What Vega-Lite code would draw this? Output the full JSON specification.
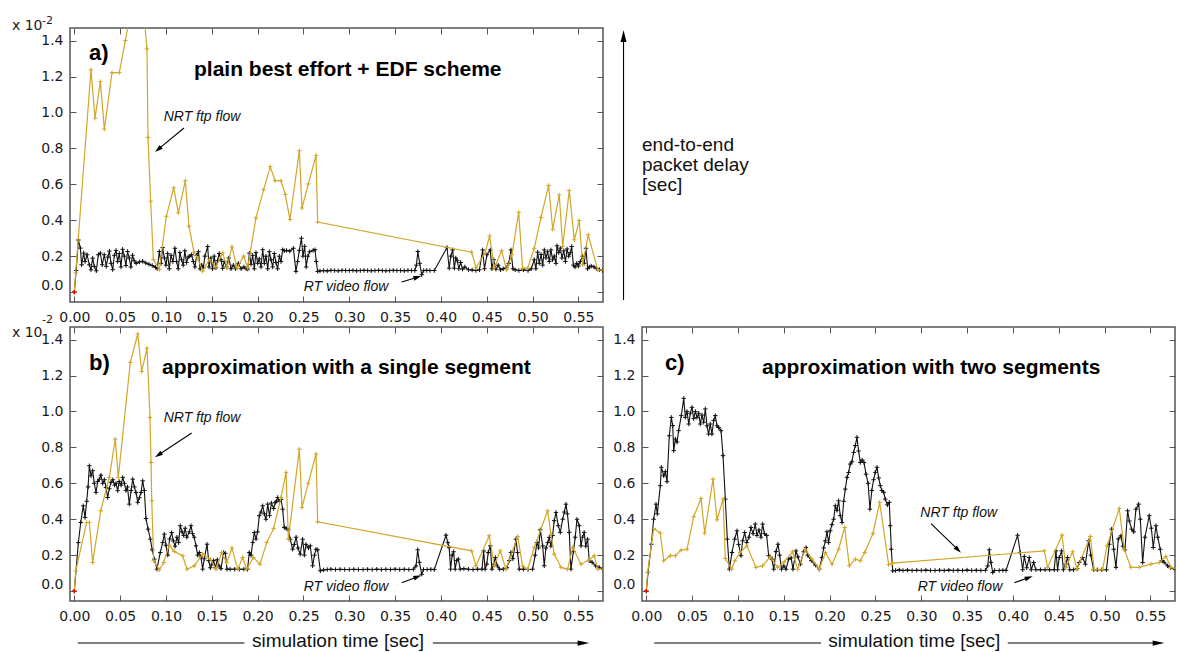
{
"$schema":"https://vega.github.io/schema/vega-lite/v6.json",
"padding":{"left":11,"top":13,"right":0,"bottom":0},
"config":{"view":{"stroke":"#555","strokeWidth":1.5},"axis":{"domain":false,"grid":false,"tickColor":"#555","tickWidth":1,"labelFont":"DejaVu Sans","labelFontSize":14,"labelColor":"#1a1a1a"}},
"datasets":{
"aNRT":[{"t":0,"v":0},{"t":0.0015,"v":0.107},{"t":0.0182,"v":1.237},{"t":0.0226,"v":0.968},{"t":0.0284,"v":1.172},{"t":0.0328,"v":0.907},{"t":0.0411,"v":1.222},{"t":0.0491,"v":1.222},{"t":0.0557,"v":1.4},{"t":0.062,"v":1.58},{"t":0.068,"v":1.56},{"t":0.0745,"v":1.62},{"t":0.0793,"v":1.354},{"t":0.0804,"v":0.861},{"t":0.0833,"v":0.506},{"t":0.0862,"v":0.182},{"t":0.0928,"v":0.126},{"t":0.1004,"v":0.422},{"t":0.1084,"v":0.58},{"t":0.1135,"v":0.441},{"t":0.1211,"v":0.62},{"t":0.1251,"v":0.367},{"t":0.1306,"v":0.222},{"t":0.135,"v":0.185},{"t":0.14,"v":0.117},{"t":0.1473,"v":0.182},{"t":0.1545,"v":0.14},{"t":0.1619,"v":0.218},{"t":0.1666,"v":0.135},{"t":0.172,"v":0.252},{"t":0.1775,"v":0.135},{"t":0.1848,"v":0.2},{"t":0.1891,"v":0.135},{"t":0.1982,"v":0.413},{"t":0.2066,"v":0.57},{"t":0.2138,"v":0.698},{"t":0.219,"v":0.62},{"t":0.2255,"v":0.62},{"t":0.2302,"v":0.543},{"t":0.2353,"v":0.404},{"t":0.2455,"v":0.787},{"t":0.2484,"v":0.468},{"t":0.2553,"v":0.602},{"t":0.2637,"v":0.761},{"t":0.2655,"v":0.39},{"t":0.4335,"v":0.222},{"t":0.4382,"v":0.135},{"t":0.4482,"v":0.218},{"t":0.4531,"v":0.313},{"t":0.4582,"v":0.135},{"t":0.4662,"v":0.23},{"t":0.4717,"v":0.124},{"t":0.4775,"v":0.209},{"t":0.4848,"v":0.444},{"t":0.4891,"v":0.133},{"t":0.4946,"v":0.133},{"t":0.5018,"v":0.244},{"t":0.5091,"v":0.415},{"t":0.5175,"v":0.594},{"t":0.5219,"v":0.35},{"t":0.5291,"v":0.541},{"t":0.5328,"v":0.254},{"t":0.54,"v":0.565},{"t":0.5455,"v":0.291},{"t":0.5509,"v":0.398},{"t":0.5546,"v":0.152},{"t":0.5607,"v":0.319},{"t":0.571,"v":0.124},{"t":0.578,"v":0.124}],
"aRT":[{"t":0,"v":0},{"t":0.002,"v":0.12},{"t":0.0045,"v":0.29},{"t":0.0066,"v":0.245},{"t":0.008,"v":0.152},{"t":0.0102,"v":0.217},{"t":0.0117,"v":0.17},{"t":0.0139,"v":0.208},{"t":0.0164,"v":0.152},{"t":0.0182,"v":0.124},{"t":0.02,"v":0.189},{"t":0.0218,"v":0.143},{"t":0.024,"v":0.119},{"t":0.0262,"v":0.208},{"t":0.0284,"v":0.217},{"t":0.0305,"v":0.152},{"t":0.0327,"v":0.208},{"t":0.0349,"v":0.143},{"t":0.0366,"v":0.195},{"t":0.0383,"v":0.228},{"t":0.0401,"v":0.16},{"t":0.0419,"v":0.125},{"t":0.0437,"v":0.205},{"t":0.0455,"v":0.232},{"t":0.0473,"v":0.17},{"t":0.0491,"v":0.215},{"t":0.0509,"v":0.14},{"t":0.0527,"v":0.238},{"t":0.0545,"v":0.2},{"t":0.0563,"v":0.148},{"t":0.0581,"v":0.226},{"t":0.0599,"v":0.19},{"t":0.0617,"v":0.14},{"t":0.0635,"v":0.205},{"t":0.0653,"v":0.175},{"t":0.0675,"v":0.16},{"t":0.071,"v":0.168},{"t":0.0745,"v":0.172},{"t":0.078,"v":0.162},{"t":0.0815,"v":0.155},{"t":0.085,"v":0.148},{"t":0.0885,"v":0.138},{"t":0.0905,"v":0.13},{"t":0.0928,"v":0.226},{"t":0.0946,"v":0.16},{"t":0.0964,"v":0.248},{"t":0.0982,"v":0.19},{"t":0.1,"v":0.15},{"t":0.1018,"v":0.215},{"t":0.1036,"v":0.13},{"t":0.1055,"v":0.205},{"t":0.1075,"v":0.17},{"t":0.1098,"v":0.244},{"t":0.1116,"v":0.17},{"t":0.1134,"v":0.13},{"t":0.1152,"v":0.22},{"t":0.117,"v":0.18},{"t":0.1188,"v":0.15},{"t":0.1206,"v":0.23},{"t":0.1224,"v":0.165},{"t":0.1242,"v":0.195},{"t":0.126,"v":0.2},{"t":0.128,"v":0.208},{"t":0.1298,"v":0.17},{"t":0.1316,"v":0.14},{"t":0.1335,"v":0.205},{"t":0.1355,"v":0.225},{"t":0.1373,"v":0.13},{"t":0.139,"v":0.15},{"t":0.1408,"v":0.135},{"t":0.1425,"v":0.2},{"t":0.1455,"v":0.254},{"t":0.147,"v":0.14},{"t":0.149,"v":0.19},{"t":0.1508,"v":0.13},{"t":0.1526,"v":0.2},{"t":0.1545,"v":0.135},{"t":0.1563,"v":0.175},{"t":0.1581,"v":0.215},{"t":0.16,"v":0.18},{"t":0.1618,"v":0.132},{"t":0.1636,"v":0.17},{"t":0.166,"v":0.14},{"t":0.1685,"v":0.19},{"t":0.171,"v":0.13},{"t":0.1735,"v":0.15},{"t":0.176,"v":0.13},{"t":0.179,"v":0.16},{"t":0.182,"v":0.13},{"t":0.185,"v":0.14},{"t":0.1875,"v":0.13},{"t":0.1892,"v":0.128},{"t":0.191,"v":0.217},{"t":0.1928,"v":0.155},{"t":0.1946,"v":0.205},{"t":0.1964,"v":0.13},{"t":0.1982,"v":0.22},{"t":0.2,"v":0.16},{"t":0.2018,"v":0.185},{"t":0.2037,"v":0.14},{"t":0.2055,"v":0.236},{"t":0.2073,"v":0.16},{"t":0.2091,"v":0.2},{"t":0.211,"v":0.13},{"t":0.2128,"v":0.225},{"t":0.2146,"v":0.18},{"t":0.2164,"v":0.14},{"t":0.2182,"v":0.215},{"t":0.22,"v":0.165},{"t":0.2218,"v":0.13},{"t":0.2237,"v":0.2},{"t":0.2255,"v":0.17},{"t":0.2273,"v":0.236},{"t":0.2291,"v":0.23},{"t":0.2315,"v":0.232},{"t":0.235,"v":0.228},{"t":0.239,"v":0.244},{"t":0.2418,"v":0.115},{"t":0.2436,"v":0.17},{"t":0.2455,"v":0.232},{"t":0.2478,"v":0.3},{"t":0.2495,"v":0.2},{"t":0.2513,"v":0.255},{"t":0.253,"v":0.14},{"t":0.2548,"v":0.2},{"t":0.2568,"v":0.225},{"t":0.2605,"v":0.232},{"t":0.2626,"v":0.236},{"t":0.264,"v":0.17},{"t":0.2655,"v":0.115},{"t":0.268,"v":0.118},{"t":0.272,"v":0.12},{"t":0.276,"v":0.118},{"t":0.28,"v":0.121},{"t":0.284,"v":0.12},{"t":0.288,"v":0.119},{"t":0.292,"v":0.121},{"t":0.296,"v":0.12},{"t":0.3,"v":0.12},{"t":0.304,"v":0.121},{"t":0.308,"v":0.119},{"t":0.312,"v":0.12},{"t":0.316,"v":0.121},{"t":0.32,"v":0.12},{"t":0.324,"v":0.119},{"t":0.328,"v":0.12},{"t":0.332,"v":0.121},{"t":0.336,"v":0.12},{"t":0.34,"v":0.119},{"t":0.344,"v":0.12},{"t":0.348,"v":0.121},{"t":0.352,"v":0.12},{"t":0.356,"v":0.12},{"t":0.36,"v":0.119},{"t":0.364,"v":0.121},{"t":0.368,"v":0.12},{"t":0.3715,"v":0.12},{"t":0.3732,"v":0.15},{"t":0.3748,"v":0.226},{"t":0.3768,"v":0.16},{"t":0.379,"v":0.097},{"t":0.3812,"v":0.12},{"t":0.3845,"v":0.121},{"t":0.388,"v":0.12},{"t":0.3927,"v":0.12},{"t":0.4066,"v":0.248},{"t":0.409,"v":0.133},{"t":0.4108,"v":0.2},{"t":0.4128,"v":0.235},{"t":0.4146,"v":0.133},{"t":0.4162,"v":0.19},{"t":0.4178,"v":0.175},{"t":0.4195,"v":0.13},{"t":0.4215,"v":0.165},{"t":0.4235,"v":0.128},{"t":0.426,"v":0.14},{"t":0.43,"v":0.125},{"t":0.434,"v":0.123},{"t":0.438,"v":0.12},{"t":0.442,"v":0.124},{"t":0.4455,"v":0.235},{"t":0.4475,"v":0.13},{"t":0.4502,"v":0.208},{"t":0.4538,"v":0.235},{"t":0.4556,"v":0.13},{"t":0.4575,"v":0.18},{"t":0.46,"v":0.128},{"t":0.4625,"v":0.15},{"t":0.465,"v":0.124},{"t":0.468,"v":0.13},{"t":0.4715,"v":0.135},{"t":0.474,"v":0.16},{"t":0.4764,"v":0.235},{"t":0.4785,"v":0.13},{"t":0.481,"v":0.124},{"t":0.485,"v":0.12},{"t":0.49,"v":0.124},{"t":0.495,"v":0.12},{"t":0.4985,"v":0.13},{"t":0.5018,"v":0.18},{"t":0.5036,"v":0.13},{"t":0.5055,"v":0.222},{"t":0.5073,"v":0.16},{"t":0.5092,"v":0.21},{"t":0.511,"v":0.15},{"t":0.5128,"v":0.235},{"t":0.5146,"v":0.19},{"t":0.5164,"v":0.225},{"t":0.5182,"v":0.17},{"t":0.52,"v":0.235},{"t":0.5218,"v":0.18},{"t":0.5236,"v":0.2},{"t":0.5255,"v":0.16},{"t":0.5266,"v":0.258},{"t":0.5285,"v":0.22},{"t":0.5303,"v":0.245},{"t":0.5321,"v":0.19},{"t":0.534,"v":0.23},{"t":0.5358,"v":0.17},{"t":0.5376,"v":0.24},{"t":0.5394,"v":0.2},{"t":0.5412,"v":0.22},{"t":0.5426,"v":0.254},{"t":0.5445,"v":0.15},{"t":0.5463,"v":0.14},{"t":0.5482,"v":0.16},{"t":0.55,"v":0.145},{"t":0.552,"v":0.17},{"t":0.5545,"v":0.2},{"t":0.5563,"v":0.16},{"t":0.5582,"v":0.244},{"t":0.56,"v":0.13},{"t":0.5618,"v":0.14},{"t":0.564,"v":0.145},{"t":0.567,"v":0.14},{"t":0.57,"v":0.13},{"t":0.573,"v":0.125},{"t":0.5765,"v":0.12}],
"bNRT":[{"t":0,"v":0},{"t":0.0015,"v":0.111},{"t":0.0135,"v":0.382},{"t":0.0164,"v":0.382},{"t":0.02,"v":0.159},{"t":0.0288,"v":0.447},{"t":0.0382,"v":0.633},{"t":0.0447,"v":0.846},{"t":0.048,"v":0.633},{"t":0.0611,"v":1.273},{"t":0.0692,"v":1.431},{"t":0.0735,"v":1.222},{"t":0.0793,"v":1.352},{"t":0.0826,"v":0.967},{"t":0.0837,"v":0.716},{"t":0.0845,"v":0.503},{"t":0.0866,"v":0.169},{"t":0.0927,"v":0.119},{"t":0.0975,"v":0.159},{"t":0.1036,"v":0.256},{"t":0.1091,"v":0.221},{"t":0.1182,"v":0.197},{"t":0.1229,"v":0.122},{"t":0.1309,"v":0.141},{"t":0.14,"v":0.206},{"t":0.1484,"v":0.178},{"t":0.1546,"v":0.122},{"t":0.1608,"v":0.215},{"t":0.1662,"v":0.159},{"t":0.172,"v":0.239},{"t":0.1783,"v":0.122},{"t":0.1837,"v":0.187},{"t":0.188,"v":0.122},{"t":0.1953,"v":0.187},{"t":0.2026,"v":0.15},{"t":0.2099,"v":0.27},{"t":0.2175,"v":0.349},{"t":0.2255,"v":0.521},{"t":0.231,"v":0.661},{"t":0.2335,"v":0.289},{"t":0.2455,"v":0.79},{"t":0.2484,"v":0.466},{"t":0.2553,"v":0.601},{"t":0.2637,"v":0.763},{"t":0.2655,"v":0.386},{"t":0.4335,"v":0.224},{"t":0.4382,"v":0.141},{"t":0.4527,"v":0.308},{"t":0.4582,"v":0.141},{"t":0.4647,"v":0.224},{"t":0.4709,"v":0.122},{"t":0.4837,"v":0.304},{"t":0.4891,"v":0.14},{"t":0.4946,"v":0.122},{"t":0.5018,"v":0.243},{"t":0.5164,"v":0.447},{"t":0.52,"v":0.317},{"t":0.5236,"v":0.206},{"t":0.531,"v":0.132},{"t":0.5382,"v":0.122},{"t":0.5437,"v":0.243},{"t":0.5528,"v":0.15},{"t":0.5618,"v":0.174},{"t":0.5673,"v":0.197},{"t":0.571,"v":0.122},{"t":0.578,"v":0.122}],
"bRT":[{"t":0,"v":0},{"t":0.0044,"v":0.27},{"t":0.007,"v":0.382},{"t":0.0098,"v":0.475},{"t":0.0117,"v":0.41},{"t":0.0135,"v":0.5},{"t":0.015,"v":0.58},{"t":0.0164,"v":0.698},{"t":0.0182,"v":0.642},{"t":0.02,"v":0.67},{"t":0.0218,"v":0.6},{"t":0.0237,"v":0.549},{"t":0.0255,"v":0.61},{"t":0.0273,"v":0.623},{"t":0.029,"v":0.645},{"t":0.031,"v":0.6},{"t":0.0328,"v":0.62},{"t":0.0346,"v":0.577},{"t":0.0364,"v":0.521},{"t":0.0382,"v":0.57},{"t":0.04,"v":0.605},{"t":0.042,"v":0.62},{"t":0.044,"v":0.59},{"t":0.0455,"v":0.6},{"t":0.0473,"v":0.559},{"t":0.049,"v":0.61},{"t":0.051,"v":0.59},{"t":0.0528,"v":0.633},{"t":0.0546,"v":0.6},{"t":0.0564,"v":0.56},{"t":0.058,"v":0.58},{"t":0.06,"v":0.484},{"t":0.062,"v":0.56},{"t":0.0637,"v":0.623},{"t":0.0655,"v":0.58},{"t":0.0673,"v":0.549},{"t":0.0692,"v":0.494},{"t":0.071,"v":0.52},{"t":0.0728,"v":0.549},{"t":0.0746,"v":0.614},{"t":0.0764,"v":0.56},{"t":0.0782,"v":0.404},{"t":0.0805,"v":0.345},{"t":0.083,"v":0.289},{"t":0.085,"v":0.23},{"t":0.0873,"v":0.178},{"t":0.0902,"v":0.122},{"t":0.0938,"v":0.215},{"t":0.0964,"v":0.27},{"t":0.0982,"v":0.317},{"t":0.1,"v":0.255},{"t":0.102,"v":0.2},{"t":0.104,"v":0.29},{"t":0.1062,"v":0.326},{"t":0.108,"v":0.28},{"t":0.11,"v":0.25},{"t":0.112,"v":0.3},{"t":0.1138,"v":0.27},{"t":0.1156,"v":0.364},{"t":0.1175,"v":0.33},{"t":0.1193,"v":0.31},{"t":0.121,"v":0.35},{"t":0.1228,"v":0.3},{"t":0.1255,"v":0.33},{"t":0.1273,"v":0.364},{"t":0.129,"v":0.32},{"t":0.1308,"v":0.3},{"t":0.1328,"v":0.252},{"t":0.1346,"v":0.2},{"t":0.1364,"v":0.215},{"t":0.1382,"v":0.19},{"t":0.14,"v":0.122},{"t":0.1418,"v":0.18},{"t":0.1448,"v":0.261},{"t":0.1466,"v":0.17},{"t":0.1484,"v":0.13},{"t":0.1502,"v":0.15},{"t":0.152,"v":0.17},{"t":0.154,"v":0.13},{"t":0.156,"v":0.175},{"t":0.158,"v":0.14},{"t":0.16,"v":0.125},{"t":0.163,"v":0.215},{"t":0.1648,"v":0.21},{"t":0.1666,"v":0.122},{"t":0.17,"v":0.122},{"t":0.175,"v":0.122},{"t":0.18,"v":0.122},{"t":0.185,"v":0.122},{"t":0.189,"v":0.122},{"t":0.1909,"v":0.215},{"t":0.1928,"v":0.2},{"t":0.1946,"v":0.27},{"t":0.1964,"v":0.326},{"t":0.1982,"v":0.29},{"t":0.2,"v":0.33},{"t":0.2018,"v":0.42},{"t":0.2037,"v":0.44},{"t":0.2055,"v":0.475},{"t":0.2073,"v":0.43},{"t":0.2091,"v":0.4},{"t":0.211,"v":0.484},{"t":0.213,"v":0.42},{"t":0.215,"v":0.49},{"t":0.2175,"v":0.46},{"t":0.2193,"v":0.494},{"t":0.2205,"v":0.5},{"t":0.2219,"v":0.521},{"t":0.2237,"v":0.5},{"t":0.2255,"v":0.51},{"t":0.2273,"v":0.456},{"t":0.2291,"v":0.354},{"t":0.231,"v":0.35},{"t":0.2335,"v":0.34},{"t":0.2356,"v":0.289},{"t":0.2382,"v":0.233},{"t":0.24,"v":0.26},{"t":0.242,"v":0.3},{"t":0.244,"v":0.24},{"t":0.2465,"v":0.206},{"t":0.2491,"v":0.289},{"t":0.251,"v":0.2},{"t":0.2528,"v":0.26},{"t":0.2555,"v":0.24},{"t":0.2575,"v":0.252},{"t":0.26,"v":0.141},{"t":0.262,"v":0.2},{"t":0.2637,"v":0.233},{"t":0.2655,"v":0.23},{"t":0.2684,"v":0.113},{"t":0.272,"v":0.118},{"t":0.276,"v":0.12},{"t":0.28,"v":0.122},{"t":0.285,"v":0.12},{"t":0.29,"v":0.121},{"t":0.295,"v":0.12},{"t":0.3,"v":0.12},{"t":0.305,"v":0.121},{"t":0.31,"v":0.12},{"t":0.315,"v":0.12},{"t":0.32,"v":0.121},{"t":0.325,"v":0.12},{"t":0.33,"v":0.122},{"t":0.335,"v":0.12},{"t":0.34,"v":0.121},{"t":0.345,"v":0.12},{"t":0.35,"v":0.122},{"t":0.355,"v":0.12},{"t":0.36,"v":0.121},{"t":0.365,"v":0.12},{"t":0.37,"v":0.122},{"t":0.3728,"v":0.14},{"t":0.3746,"v":0.23},{"t":0.3765,"v":0.16},{"t":0.379,"v":0.094},{"t":0.381,"v":0.12},{"t":0.385,"v":0.12},{"t":0.389,"v":0.121},{"t":0.3927,"v":0.12},{"t":0.4055,"v":0.311},{"t":0.4075,"v":0.27},{"t":0.409,"v":0.243},{"t":0.4105,"v":0.122},{"t":0.4122,"v":0.2},{"t":0.4138,"v":0.219},{"t":0.4155,"v":0.122},{"t":0.4172,"v":0.17},{"t":0.419,"v":0.178},{"t":0.421,"v":0.122},{"t":0.425,"v":0.125},{"t":0.43,"v":0.122},{"t":0.435,"v":0.12},{"t":0.44,"v":0.122},{"t":0.4448,"v":0.122},{"t":0.4466,"v":0.224},{"t":0.4482,"v":0.122},{"t":0.45,"v":0.15},{"t":0.4516,"v":0.215},{"t":0.4538,"v":0.252},{"t":0.4556,"v":0.122},{"t":0.4575,"v":0.15},{"t":0.4593,"v":0.187},{"t":0.4615,"v":0.14},{"t":0.464,"v":0.122},{"t":0.468,"v":0.122},{"t":0.472,"v":0.13},{"t":0.4745,"v":0.17},{"t":0.4764,"v":0.215},{"t":0.4785,"v":0.18},{"t":0.4818,"v":0.289},{"t":0.4836,"v":0.215},{"t":0.4855,"v":0.122},{"t":0.49,"v":0.122},{"t":0.495,"v":0.12},{"t":0.5,"v":0.122},{"t":0.5028,"v":0.2},{"t":0.5047,"v":0.271},{"t":0.5065,"v":0.24},{"t":0.5084,"v":0.341},{"t":0.511,"v":0.252},{"t":0.5127,"v":0.141},{"t":0.5145,"v":0.24},{"t":0.5165,"v":0.27},{"t":0.5182,"v":0.299},{"t":0.52,"v":0.25},{"t":0.5218,"v":0.31},{"t":0.5236,"v":0.392},{"t":0.5255,"v":0.438},{"t":0.528,"v":0.364},{"t":0.5302,"v":0.327},{"t":0.5328,"v":0.4},{"t":0.5346,"v":0.44},{"t":0.5364,"v":0.484},{"t":0.538,"v":0.43},{"t":0.54,"v":0.327},{"t":0.5418,"v":0.122},{"t":0.5445,"v":0.22},{"t":0.5465,"v":0.3},{"t":0.5484,"v":0.4},{"t":0.5509,"v":0.364},{"t":0.5528,"v":0.252},{"t":0.5545,"v":0.3},{"t":0.5563,"v":0.327},{"t":0.558,"v":0.25},{"t":0.56,"v":0.289},{"t":0.5618,"v":0.169},{"t":0.565,"v":0.16},{"t":0.569,"v":0.14},{"t":0.5727,"v":0.132},{"t":0.577,"v":0.122}],
"cNRT":[{"t":0,"v":0},{"t":0.0015,"v":0.104},{"t":0.008,"v":0.349},{"t":0.0153,"v":0.323},{"t":0.019,"v":0.169},{"t":0.0262,"v":0.197},{"t":0.0317,"v":0.197},{"t":0.0379,"v":0.228},{"t":0.0444,"v":0.233},{"t":0.0517,"v":0.414},{"t":0.0597,"v":0.516},{"t":0.0637,"v":0.323},{"t":0.0728,"v":0.623},{"t":0.0771,"v":0.397},{"t":0.0837,"v":0.512},{"t":0.0862,"v":0.182},{"t":0.0931,"v":0.122},{"t":0.0966,"v":0.169},{"t":0.1024,"v":0.215},{"t":0.1097,"v":0.252},{"t":0.1196,"v":0.132},{"t":0.1268,"v":0.141},{"t":0.1352,"v":0.191},{"t":0.1432,"v":0.132},{"t":0.1505,"v":0.163},{"t":0.1596,"v":0.219},{"t":0.1651,"v":0.122},{"t":0.1734,"v":0.233},{"t":0.1808,"v":0.178},{"t":0.1887,"v":0.122},{"t":0.1953,"v":0.215},{"t":0.2026,"v":0.15},{"t":0.2098,"v":0.233},{"t":0.2164,"v":0.354},{"t":0.2215,"v":0.141},{"t":0.228,"v":0.178},{"t":0.2335,"v":0.169},{"t":0.2382,"v":0.215},{"t":0.2473,"v":0.321},{"t":0.2546,"v":0.494},{"t":0.2644,"v":0.147},{"t":0.2688,"v":0.156},{"t":0.4342,"v":0.224},{"t":0.4378,"v":0.132},{"t":0.4535,"v":0.311},{"t":0.4578,"v":0.132},{"t":0.4651,"v":0.219},{"t":0.4698,"v":0.122},{"t":0.4844,"v":0.304},{"t":0.4887,"v":0.119},{"t":0.4979,"v":0.122},{"t":0.5026,"v":0.252},{"t":0.516,"v":0.46},{"t":0.5214,"v":0.233},{"t":0.5287,"v":0.132},{"t":0.5378,"v":0.132},{"t":0.5505,"v":0.15},{"t":0.5596,"v":0.159},{"t":0.5669,"v":0.193},{"t":0.5724,"v":0.132},{"t":0.578,"v":0.125}],
"cRT":[{"t":0,"v":0},{"t":0.0019,"v":0.104},{"t":0.0055,"v":0.261},{"t":0.008,"v":0.4},{"t":0.0106,"v":0.484},{"t":0.012,"v":0.43},{"t":0.0153,"v":0.587},{"t":0.0164,"v":0.689},{"t":0.019,"v":0.642},{"t":0.0208,"v":0.665},{"t":0.0226,"v":0.609},{"t":0.0251,"v":0.865},{"t":0.0273,"v":0.967},{"t":0.0288,"v":0.921},{"t":0.0299,"v":0.782},{"t":0.0317,"v":0.846},{"t":0.0335,"v":0.83},{"t":0.0353,"v":0.893},{"t":0.0382,"v":0.977},{"t":0.0408,"v":1.073},{"t":0.0426,"v":0.967},{"t":0.0444,"v":1.0},{"t":0.0463,"v":0.93},{"t":0.048,"v":0.99},{"t":0.0498,"v":1.023},{"t":0.0517,"v":0.96},{"t":0.0535,"v":1.0},{"t":0.0553,"v":0.967},{"t":0.0571,"v":0.99},{"t":0.0589,"v":0.93},{"t":0.0607,"v":0.98},{"t":0.0626,"v":0.94},{"t":0.0644,"v":1.014},{"t":0.0662,"v":0.92},{"t":0.068,"v":0.874},{"t":0.0698,"v":0.93},{"t":0.0716,"v":0.874},{"t":0.0735,"v":0.95},{"t":0.0753,"v":0.977},{"t":0.0771,"v":0.92},{"t":0.0789,"v":0.911},{"t":0.0815,"v":0.893},{"t":0.0837,"v":0.754},{"t":0.0862,"v":0.512},{"t":0.0884,"v":0.289},{"t":0.0906,"v":0.122},{"t":0.0935,"v":0.215},{"t":0.0964,"v":0.289},{"t":0.0989,"v":0.336},{"t":0.1007,"v":0.26},{"t":0.1033,"v":0.197},{"t":0.1051,"v":0.28},{"t":0.1073,"v":0.326},{"t":0.1095,"v":0.27},{"t":0.112,"v":0.3},{"t":0.1142,"v":0.354},{"t":0.1165,"v":0.32},{"t":0.1189,"v":0.373},{"t":0.1207,"v":0.31},{"t":0.1229,"v":0.34},{"t":0.1251,"v":0.3},{"t":0.1269,"v":0.373},{"t":0.1289,"v":0.32},{"t":0.1313,"v":0.31},{"t":0.1335,"v":0.197},{"t":0.1353,"v":0.19},{"t":0.1371,"v":0.178},{"t":0.139,"v":0.122},{"t":0.1415,"v":0.22},{"t":0.1437,"v":0.261},{"t":0.1455,"v":0.2},{"t":0.1475,"v":0.122},{"t":0.15,"v":0.14},{"t":0.1524,"v":0.122},{"t":0.1553,"v":0.178},{"t":0.158,"v":0.185},{"t":0.16,"v":0.122},{"t":0.1633,"v":0.224},{"t":0.1655,"v":0.19},{"t":0.168,"v":0.15},{"t":0.1717,"v":0.219},{"t":0.1742,"v":0.243},{"t":0.176,"v":0.2},{"t":0.18,"v":0.17},{"t":0.1845,"v":0.145},{"t":0.1887,"v":0.122},{"t":0.1917,"v":0.187},{"t":0.1935,"v":0.24},{"t":0.1953,"v":0.28},{"t":0.1971,"v":0.33},{"t":0.1989,"v":0.27},{"t":0.2007,"v":0.336},{"t":0.2025,"v":0.37},{"t":0.2044,"v":0.4},{"t":0.2062,"v":0.475},{"t":0.208,"v":0.45},{"t":0.2098,"v":0.503},{"t":0.2116,"v":0.42},{"t":0.2135,"v":0.382},{"t":0.2153,"v":0.5},{"t":0.2171,"v":0.568},{"t":0.219,"v":0.633},{"t":0.2207,"v":0.66},{"t":0.2225,"v":0.707},{"t":0.2243,"v":0.72},{"t":0.2262,"v":0.772},{"t":0.228,"v":0.81},{"t":0.2298,"v":0.856},{"t":0.2316,"v":0.78},{"t":0.2335,"v":0.716},{"t":0.2355,"v":0.73},{"t":0.2375,"v":0.716},{"t":0.2397,"v":0.651},{"t":0.242,"v":0.6},{"t":0.244,"v":0.456},{"t":0.246,"v":0.56},{"t":0.248,"v":0.62},{"t":0.2498,"v":0.661},{"t":0.2517,"v":0.689},{"t":0.2535,"v":0.63},{"t":0.2553,"v":0.587},{"t":0.257,"v":0.56},{"t":0.259,"v":0.55},{"t":0.2607,"v":0.512},{"t":0.263,"v":0.48},{"t":0.2651,"v":0.494},{"t":0.2662,"v":0.364},{"t":0.2673,"v":0.233},{"t":0.2688,"v":0.113},{"t":0.272,"v":0.115},{"t":0.276,"v":0.118},{"t":0.28,"v":0.115},{"t":0.285,"v":0.117},{"t":0.29,"v":0.115},{"t":0.295,"v":0.116},{"t":0.3,"v":0.115},{"t":0.305,"v":0.117},{"t":0.31,"v":0.115},{"t":0.315,"v":0.115},{"t":0.32,"v":0.116},{"t":0.325,"v":0.115},{"t":0.33,"v":0.117},{"t":0.335,"v":0.115},{"t":0.34,"v":0.116},{"t":0.345,"v":0.115},{"t":0.35,"v":0.117},{"t":0.355,"v":0.115},{"t":0.36,"v":0.116},{"t":0.365,"v":0.115},{"t":0.37,"v":0.116},{"t":0.3725,"v":0.14},{"t":0.3742,"v":0.23},{"t":0.376,"v":0.16},{"t":0.3779,"v":0.104},{"t":0.38,"v":0.115},{"t":0.385,"v":0.115},{"t":0.389,"v":0.116},{"t":0.3924,"v":0.115},{"t":0.4051,"v":0.311},{"t":0.408,"v":0.215},{"t":0.4106,"v":0.119},{"t":0.4124,"v":0.193},{"t":0.415,"v":0.13},{"t":0.4178,"v":0.187},{"t":0.42,"v":0.119},{"t":0.4226,"v":0.159},{"t":0.425,"v":0.119},{"t":0.43,"v":0.119},{"t":0.435,"v":0.119},{"t":0.44,"v":0.119},{"t":0.445,"v":0.119},{"t":0.4469,"v":0.224},{"t":0.4487,"v":0.119},{"t":0.4505,"v":0.187},{"t":0.4531,"v":0.224},{"t":0.455,"v":0.119},{"t":0.4575,"v":0.15},{"t":0.4596,"v":0.187},{"t":0.462,"v":0.119},{"t":0.466,"v":0.119},{"t":0.47,"v":0.125},{"t":0.4724,"v":0.159},{"t":0.476,"v":0.187},{"t":0.479,"v":0.15},{"t":0.4826,"v":0.28},{"t":0.485,"v":0.2},{"t":0.488,"v":0.119},{"t":0.492,"v":0.119},{"t":0.497,"v":0.119},{"t":0.502,"v":0.119},{"t":0.5051,"v":0.261},{"t":0.5077,"v":0.345},{"t":0.5099,"v":0.233},{"t":0.5124,"v":0.132},{"t":0.515,"v":0.29},{"t":0.5178,"v":0.308},{"t":0.52,"v":0.25},{"t":0.5222,"v":0.23},{"t":0.5251,"v":0.447},{"t":0.527,"v":0.39},{"t":0.5295,"v":0.345},{"t":0.5318,"v":0.33},{"t":0.5342,"v":0.456},{"t":0.5371,"v":0.484},{"t":0.539,"v":0.4},{"t":0.5415,"v":0.159},{"t":0.544,"v":0.3},{"t":0.5487,"v":0.42},{"t":0.551,"v":0.35},{"t":0.5531,"v":0.243},{"t":0.556,"v":0.364},{"t":0.558,"v":0.3},{"t":0.5607,"v":0.233},{"t":0.5625,"v":0.17},{"t":0.565,"v":0.16},{"t":0.5687,"v":0.141},{"t":0.572,"v":0.13},{"t":0.577,"v":0.12}]
},
"vconcat":[
{"width":533,"height":274,
 "encoding":{"x":{"field":"t","type":"quantitative","scale":{"domain":[-0.0047,0.5768],"nice":false,"zero":false},"axis":null},"y":{"field":"v","type":"quantitative","scale":{"domain":[-0.055,1.47],"nice":false,"zero":false},"axis":null}},
 "layer":[
  {"data":{"name":"aRT"},"mark":{"type":"line","color":"#111111","strokeWidth":1.1,"clip":true},
   "encoding":{"x":{"field":"t","type":"quantitative","scale":{"domain":[-0.0047,0.5768],"nice":false,"zero":false},"axis":{"orient":"top","values":[0,0.05,0.1,0.15,0.2,0.25,0.3,0.35,0.4,0.45,0.5,0.55],"labels":false,"tickSize":-6,"title":null}},
   "y":{"field":"v","type":"quantitative","scale":{"domain":[-0.055,1.47],"nice":false,"zero":false},"axis":{"orient":"right","values":[0,0.2,0.4,0.6,0.8,1,1.2,1.4],"labels":false,"tickSize":-6,"title":null}}}},
  {"data":{"name":"aRT"},"mark":{"type":"point","shape":"M-1,0L1,0M0,-1L0,1","size":20,"filled":false,"color":"#111111","strokeWidth":1,"opacity":1,"clip":true}},
  {"data":{"name":"aNRT"},"mark":{"type":"line","color":"#d2a628","strokeWidth":1.2,"clip":true},
   "encoding":{"x":{"field":"t","type":"quantitative","scale":{"domain":[-0.0047,0.5768],"nice":false,"zero":false},"axis":{"orient":"bottom","values":[0,0.05,0.1,0.15,0.2,0.25,0.3,0.35,0.4,0.45,0.5,0.55],"format":".2f","tickSize":-6,"labelPadding":14,"labelFlush":false,"labelOverlap":false,"title":null}},
   "y":{"field":"v","type":"quantitative","scale":{"domain":[-0.055,1.47],"nice":false,"zero":false},"axis":{"orient":"left","values":[0,0.2,0.4,0.6,0.8,1,1.2,1.4],"format":".1f","tickSize":-6,"labelPadding":13,"labelFlush":false,"labelOverlap":false,"title":null,"labelOffset":{"condition":{"test":"datum.value === 0","value":-7},"value":0}}}}},
  {"data":{"name":"aNRT"},"mark":{"type":"point","shape":"M-1,0L1,0M0,-1L0,1","size":20,"filled":false,"color":"#d2a628","strokeWidth":1,"opacity":1,"clip":true}},
  {"data":{"values":[{"t":0,"v":0}]},"mark":{"type":"point","shape":"M-1,0L1,0M0,-1L0,1","size":20,"filled":false,"color":"#e00000","strokeWidth":1.2,"opacity":1}},
  {"data":{"values":[{"t":0.016,"v":1.292,"label":"a)"}]},"mark":{"type":"text","font":"Liberation Sans","fontSize":22,"fontWeight":"bold","align":"left","baseline":"alphabetic","color":"#000"},"encoding":{"text":{"field":"label"}}},
  {"data":{"values":[{"t":0.1306,"v":1.203,"label":"plain best effort + EDF scheme"}]},"mark":{"type":"text","font":"Liberation Sans","fontSize":21,"fontWeight":"bold","align":"left","baseline":"alphabetic","color":"#000"},"encoding":{"text":{"field":"label"}}},
  {"data":{"values":[{"t":0.0975,"v":0.952,"label":"NRT ftp flow"},{"t":0.2503,"v":0.0045,"label":"RT video flow"}]},"mark":{"type":"text","font":"Liberation Sans","fontSize":14,"fontStyle":"italic","align":"left","baseline":"alphabetic","color":"#111"},"encoding":{"text":{"field":"label"}}},
  {"data":{"values":[{"t":-0.068,"v":1.457,"label":"x 10"}]},"mark":{"type":"text","font":"DejaVu Sans","fontSize":14,"align":"left","baseline":"alphabetic","color":"#1a1a1a"},"encoding":{"text":{"field":"label"}}},
  {"data":{"values":[{"t":-0.0352,"v":1.495,"label":"-2"}]},"mark":{"type":"text","font":"DejaVu Sans","fontSize":11,"align":"left","baseline":"alphabetic","color":"#1a1a1a"},"encoding":{"text":{"field":"label"}}},
  {"data":{"values":[{"t":0.6194,"v":0.7854,"label":"end-to-end"},{"t":0.6194,"v":0.6741,"label":"packet delay"},{"t":0.6194,"v":0.5628,"label":"[sec]"}]},"mark":{"type":"text","font":"Liberation Sans","fontSize":19,"align":"left","baseline":"alphabetic","color":"#111"},"encoding":{"text":{"field":"label"}}},
  {"data":{"values":[{"t":0.1197,"v":0.9134,"t2":0.0914,"v2":0.7943},{"t":0.3571,"v":0.0563,"t2":0.3744,"v2":0.083},{"t":0.5992,"v":-0.044,"t2":0.5992,"v2":1.40}]},"mark":{"type":"rule","color":"#000","strokeWidth":1.1},"encoding":{"x2":{"field":"t2"},"y2":{"field":"v2"}}},
  {"data":{"values":[{"t":0.0914,"v":0.7943}]},"mark":{"type":"point","shape":"M1,0L-1,-0.6L-1,0.6Z","size":64,"filled":true,"color":"#000","opacity":1,"angle":140.4}},
  {"data":{"values":[{"t":0.3744,"v":0.083}]},"mark":{"type":"point","shape":"M1,0L-1,-0.6L-1,0.6Z","size":64,"filled":true,"color":"#000","opacity":1,"angle":342.7}},
  {"data":{"values":[{"t":0.5992,"v":1.425}]},"mark":{"type":"point","shape":"M0,-1L0.5,1L-0.5,1Z","size":144,"filled":true,"color":"#000","opacity":1}}
 ],
 "resolve":{"axis":{"x":"independent","y":"independent"}}
},
{"hconcat":[
 {"width":533,"height":274,
 "encoding":{"x":{"field":"t","type":"quantitative","scale":{"domain":[-0.0047,0.5768],"nice":false,"zero":false},"axis":null},"y":{"field":"v","type":"quantitative","scale":{"domain":[-0.055,1.47],"nice":false,"zero":false},"axis":null}},
 "layer":[
  {"data":{"name":"bRT"},"mark":{"type":"line","color":"#111111","strokeWidth":1.1,"clip":true},
   "encoding":{"x":{"field":"t","type":"quantitative","scale":{"domain":[-0.0047,0.5768],"nice":false,"zero":false},"axis":{"orient":"top","values":[0,0.05,0.1,0.15,0.2,0.25,0.3,0.35,0.4,0.45,0.5,0.55],"labels":false,"tickSize":-6,"title":null}},
   "y":{"field":"v","type":"quantitative","scale":{"domain":[-0.055,1.47],"nice":false,"zero":false},"axis":{"orient":"right","values":[0,0.2,0.4,0.6,0.8,1,1.2,1.4],"labels":false,"tickSize":-6,"title":null}}}},
  {"data":{"name":"bRT"},"mark":{"type":"point","shape":"M-1,0L1,0M0,-1L0,1","size":20,"filled":false,"color":"#111111","strokeWidth":1,"opacity":1,"clip":true}},
  {"data":{"name":"bNRT"},"mark":{"type":"line","color":"#d2a628","strokeWidth":1.2,"clip":true},
   "encoding":{"x":{"field":"t","type":"quantitative","scale":{"domain":[-0.0047,0.5768],"nice":false,"zero":false},"axis":{"orient":"bottom","values":[0,0.05,0.1,0.15,0.2,0.25,0.3,0.35,0.4,0.45,0.5,0.55],"format":".2f","tickSize":-6,"labelPadding":14,"labelFlush":false,"labelOverlap":false,"title":null}},
   "y":{"field":"v","type":"quantitative","scale":{"domain":[-0.055,1.47],"nice":false,"zero":false},"axis":{"orient":"left","values":[0,0.2,0.4,0.6,0.8,1,1.2,1.4],"format":".1f","tickSize":-6,"labelPadding":13,"labelFlush":false,"labelOverlap":false,"title":null,"labelOffset":{"condition":{"test":"datum.value === 0","value":-7},"value":0}}}}},
  {"data":{"name":"bNRT"},"mark":{"type":"point","shape":"M-1,0L1,0M0,-1L0,1","size":20,"filled":false,"color":"#d2a628","strokeWidth":1,"opacity":1,"clip":true}},
  {"data":{"values":[{"t":0,"v":0}]},"mark":{"type":"point","shape":"M-1,0L1,0M0,-1L0,1","size":20,"filled":false,"color":"#e00000","strokeWidth":1.2,"opacity":1}},
  {"data":{"values":[{"t":0.016,"v":1.2307,"label":"b)"}]},"mark":{"type":"text","font":"Liberation Sans","fontSize":22,"fontWeight":"bold","align":"left","baseline":"alphabetic","color":"#000"},"encoding":{"text":{"field":"label"}}},
  {"data":{"values":[{"t":0.0957,"v":1.2084,"label":"approximation with a single segment"}]},"mark":{"type":"text","font":"Liberation Sans","fontSize":21,"fontWeight":"bold","align":"left","baseline":"alphabetic","color":"#000"},"encoding":{"text":{"field":"label"}}},
  {"data":{"values":[{"t":0.0975,"v":0.9425,"label":"NRT ftp flow"},{"t":0.2503,"v":-0.0011,"label":"RT video flow"}]},"mark":{"type":"text","font":"Liberation Sans","fontSize":14,"fontStyle":"italic","align":"left","baseline":"alphabetic","color":"#111"},"encoding":{"text":{"field":"label"}}},
  {"data":{"values":[{"t":-0.068,"v":1.4144,"label":"x 10"}]},"mark":{"type":"text","font":"DejaVu Sans","fontSize":14,"align":"left","baseline":"alphabetic","color":"#1a1a1a"},"encoding":{"text":{"field":"label"}}},
  {"data":{"values":[{"t":-0.0352,"v":1.4895,"label":"-2"}]},"mark":{"type":"text","font":"DejaVu Sans","fontSize":11,"align":"left","baseline":"alphabetic","color":"#1a1a1a"},"encoding":{"text":{"field":"label"}}},
  {"data":{"values":[{"t":0.2877,"v":-0.3111,"label":"simulation time [sec]"}]},"mark":{"type":"text","font":"Liberation Sans","fontSize":19,"align":"center","baseline":"alphabetic","color":"#111"},"encoding":{"text":{"field":"label"}}},
  {"data":{"values":[{"t":0.128,"v":0.88,"t2":0.0917,"v2":0.7578},{"t":0.3572,"v":0.0468,"t2":0.3745,"v2":0.0802},{"t":0.0037,"v":-0.2888,"t2":0.1855,"v2":-0.2888},{"t":0.3912,"v":-0.2888,"t2":0.5525,"v2":-0.2888}]},"mark":{"type":"rule","color":"#000","strokeWidth":1.1},"encoding":{"x2":{"field":"t2"},"y2":{"field":"v2"}}},
  {"data":{"values":[{"t":0.0917,"v":0.7578}]},"mark":{"type":"point","shape":"M1,0L-1,-0.6L-1,0.6Z","size":64,"filled":true,"color":"#000","opacity":1,"angle":146.8}},
  {"data":{"values":[{"t":0.3745,"v":0.0802}]},"mark":{"type":"point","shape":"M1,0L-1,-0.6L-1,0.6Z","size":64,"filled":true,"color":"#000","opacity":1,"angle":339}},
  {"data":{"values":[{"t":0.5555,"v":-0.2888}]},"mark":{"type":"point","shape":"M1,0L-1,-0.45L-1,0.45Z","size":136,"filled":true,"color":"#000","opacity":1}}
 ],
 "resolve":{"axis":{"x":"independent","y":"independent"}}
 },
 {"width":533,"height":274,
 "encoding":{"x":{"field":"t","type":"quantitative","scale":{"domain":[-0.0047,0.5768],"nice":false,"zero":false},"axis":null},"y":{"field":"v","type":"quantitative","scale":{"domain":[-0.055,1.47],"nice":false,"zero":false},"axis":null}},
 "layer":[
  {"data":{"name":"cRT"},"mark":{"type":"line","color":"#111111","strokeWidth":1.1,"clip":true},
   "encoding":{"x":{"field":"t","type":"quantitative","scale":{"domain":[-0.0047,0.5768],"nice":false,"zero":false},"axis":{"orient":"top","values":[0,0.05,0.1,0.15,0.2,0.25,0.3,0.35,0.4,0.45,0.5,0.55],"labels":false,"tickSize":-6,"title":null}},
   "y":{"field":"v","type":"quantitative","scale":{"domain":[-0.055,1.47],"nice":false,"zero":false},"axis":{"orient":"right","values":[0,0.2,0.4,0.6,0.8,1,1.2,1.4],"labels":false,"tickSize":-6,"title":null}}}},
  {"data":{"name":"cRT"},"mark":{"type":"point","shape":"M-1,0L1,0M0,-1L0,1","size":20,"filled":false,"color":"#111111","strokeWidth":1,"opacity":1,"clip":true}},
  {"data":{"name":"cNRT"},"mark":{"type":"line","color":"#d2a628","strokeWidth":1.2,"clip":true},
   "encoding":{"x":{"field":"t","type":"quantitative","scale":{"domain":[-0.0047,0.5768],"nice":false,"zero":false},"axis":{"orient":"bottom","values":[0,0.05,0.1,0.15,0.2,0.25,0.3,0.35,0.4,0.45,0.5,0.55],"format":".2f","tickSize":-6,"labelPadding":14,"labelFlush":false,"labelOverlap":false,"title":null}},
   "y":{"field":"v","type":"quantitative","scale":{"domain":[-0.055,1.47],"nice":false,"zero":false},"axis":{"orient":"left","values":[0,0.2,0.4,0.6,0.8,1,1.2,1.4],"format":".1f","tickSize":-6,"labelPadding":13,"labelFlush":false,"labelOverlap":false,"title":null,"labelOffset":{"condition":{"test":"datum.value === 0","value":-7},"value":0}}}}},
  {"data":{"name":"cNRT"},"mark":{"type":"point","shape":"M-1,0L1,0M0,-1L0,1","size":20,"filled":false,"color":"#d2a628","strokeWidth":1,"opacity":1,"clip":true}},
  {"data":{"values":[{"t":0,"v":0}]},"mark":{"type":"point","shape":"M-1,0L1,0M0,-1L0,1","size":20,"filled":false,"color":"#e00000","strokeWidth":1.2,"opacity":1}},
  {"data":{"values":[{"t":0.0204,"v":1.2307,"label":"c)"}]},"mark":{"type":"text","font":"Liberation Sans","fontSize":22,"fontWeight":"bold","align":"left","baseline":"alphabetic","color":"#000"},"encoding":{"text":{"field":"label"}}},
  {"data":{"values":[{"t":0.1262,"v":1.2084,"label":"approximation with two segments"}]},"mark":{"type":"text","font":"Liberation Sans","fontSize":21,"fontWeight":"bold","align":"left","baseline":"alphabetic","color":"#000"},"encoding":{"text":{"field":"label"}}},
  {"data":{"values":[{"t":0.299,"v":0.4125,"label":"NRT ftp flow"},{"t":0.2961,"v":-0.0011,"label":"RT video flow"}]},"mark":{"type":"text","font":"Liberation Sans","fontSize":14,"fontStyle":"italic","align":"left","baseline":"alphabetic","color":"#111"},"encoding":{"text":{"field":"label"}}},
  {"data":{"values":[{"t":0.2924,"v":-0.3111,"label":"simulation time [sec]"}]},"mark":{"type":"text","font":"Liberation Sans","fontSize":19,"align":"center","baseline":"alphabetic","color":"#111"},"encoding":{"text":{"field":"label"}}},
  {"data":{"values":[{"t":0.3106,"v":0.3752,"t2":0.3402,"v2":0.2294},{"t":0.4015,"v":0.0468,"t2":0.4174,"v2":0.0752},{"t":0.0087,"v":-0.2888,"t2":0.1906,"v2":-0.2888},{"t":0.3943,"v":-0.2888,"t2":0.5555,"v2":-0.2888}]},"mark":{"type":"rule","color":"#000","strokeWidth":1.1},"encoding":{"x2":{"field":"t2"},"y2":{"field":"v2"}}},
  {"data":{"values":[{"t":0.3402,"v":0.2294}]},"mark":{"type":"point","shape":"M1,0L-1,-0.6L-1,0.6Z","size":64,"filled":true,"color":"#000","opacity":1,"angle":44}},
  {"data":{"values":[{"t":0.4174,"v":0.0752}]},"mark":{"type":"point","shape":"M1,0L-1,-0.6L-1,0.6Z","size":64,"filled":true,"color":"#000","opacity":1,"angle":340.8}},
  {"data":{"values":[{"t":0.5588,"v":-0.2888}]},"mark":{"type":"point","shape":"M1,0L-1,-0.45L-1,0.45Z","size":136,"filled":true,"color":"#000","opacity":1}}
 ],
 "resolve":{"axis":{"x":"independent","y":"independent"}}
 }
],"spacing":39,"bounds":"flush"}
],
"spacing":25,"bounds":"flush"
}
